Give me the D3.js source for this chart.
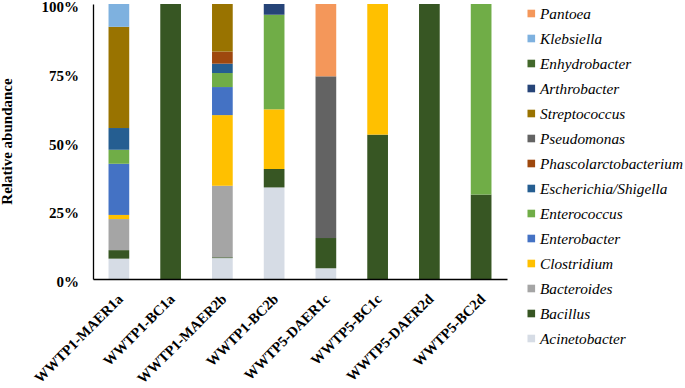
<!DOCTYPE html>
<html>
<head>
<meta charset="utf-8">
<title>Relative abundance</title>
<script src="https://d3js.org/d3.v7.min.js"></script>
<style>
	body { margin: 0; background: #fff; }
	svg text { font-family: "Liberation Serif", "Times New Roman", serif; }
	.tick-label { font-weight: bold; font-size: 15px; fill: #000; }
	.legend text { font-style: italic; font-size: 15.3px; fill: #000; }
</style>
</head>
<body>
<div id="chart"></div>
<script>
// samples (x axis)
var samples = ["WWTP1-MAER1a", "WWTP1-BC1a", "WWTP1-MAER2b", "WWTP1-BC2b",
	"WWTP5-DAER1c", "WWTP5-BC1c", "WWTP5-DAER2d", "WWTP5-BC2d"];

// genera, bottom of the stack first
var genera = ["Acinetobacter", "Bacillus", "Bacteroides", "Clostridium", "Enterobacter",
	"Enterococcus", "Escherichia/Shigella", "Phascolarctobacterium", "Pseudomonas",
	"Streptococcus", "Arthrobacter", "Enhydrobacter", "Klebsiella", "Pantoea"];

var colors = ["#d6dce5", "#375623", "#a5a5a5", "#ffc000", "#4472c4",
	"#70ad47", "#255e91", "#9e480e", "#636363",
	"#997300", "#264478", "#43682b", "#7eb1df", "#f4975a"];

// relative abundance (%) per genus, one value per sample
var Acinetobacter        = [7.4, 0, 7.6, 33.3, 3.9, 0, 0, 0];
var Bacillus             = [3.1, 100, 0.3, 6.7, 11.0, 52.5, 100, 30.7];
var Bacteroides          = [11.3, 0, 26.0, 0, 0, 0, 0, 0];
var Clostridium          = [1.5, 0, 25.7, 21.7, 0, 47.5, 0, 0];
var Enterobacter         = [18.6, 0, 10.2, 0, 0, 0, 0, 0];
var Enterococcus         = [5.1, 0, 5.1, 34.4, 0, 0, 0, 69.3];
var Escherichia          = [7.9, 0, 3.4, 0, 0, 0, 0, 0];
var Phascolarctobacterium = [0, 0, 4.4, 0, 0, 0, 0, 0];
var Pseudomonas          = [0, 0, 0, 0, 58.8, 0, 0, 0];
var Streptococcus        = [36.8, 0, 17.3, 0, 0, 0, 0, 0];
var Arthrobacter         = [0, 0, 0, 3.9, 0, 0, 0, 0];
var Enhydrobacter        = [0, 0, 0, 0, 0, 0, 0, 0];
var Klebsiella           = [8.3, 0, 0, 0, 0, 0, 0, 0];
var Pantoea              = [0, 0, 0, 0, 26.3, 0, 0, 0];

var series = [Acinetobacter, Bacillus, Bacteroides, Clostridium, Enterobacter,
	Enterococcus, Escherichia, Phascolarctobacterium, Pseudomonas,
	Streptococcus, Arthrobacter, Enhydrobacter, Klebsiella, Pantoea];

var yTicks = [0, 25, 50, 75, 100];

var width = 685, height = 388;
var margin = {left: 93, right: 178, top: 4, bottom: 109};

var svg = d3.select("#chart").append("svg")
	.attr("width", width)
	.attr("height", height);

var x = d3.scaleBand()
	.domain(samples)
	.range([margin.left, width - margin.right])
	.paddingInner(0.6)
	.paddingOuter(0.3);

var y = d3.scaleLinear()
	.domain([0, 100])
	.range([height - margin.bottom, margin.top]);

var color = d3.scaleOrdinal().domain(genera).range(colors);

// build table for the stack
var table = samples.map(function(s, i) {
	var row = {sample: s};
	genera.forEach(function(g, j) { row[g] = series[j][i]; });
	return row;
});

var stacked = d3.stack().keys(genera)(table);

svg.append("g")
	.selectAll("g")
	.data(stacked)
	.join("g")
		.attr("fill", function(d) { return color(d.key); })
	.selectAll("rect")
	.data(function(d) { return d; })
	.join("rect")
		.attr("x", function(d) { return x(d.data.sample); })
		.attr("y", function(d) { return y(d[1]); })
		.attr("width", x.bandwidth())
		.attr("height", function(d) { return Math.max(0, y(d[0]) - y(d[1])); });

// y axis
var yAxis = svg.append("g")
	.attr("transform", "translate(" + margin.left + ",0)")
	.call(d3.axisLeft(y).tickValues(yTicks).tickSize(0).tickPadding(14)
		.tickFormat(function(d) { return d + "%"; }));
yAxis.select(".domain").attr("stroke", "#000").attr("stroke-width", 1.3);
yAxis.selectAll("text").attr("class", "tick-label").attr("dy", "0.5em");

// x axis, labels slanted up to the right
var xAxis = svg.append("g")
	.attr("transform", "translate(0," + y(0) + ")")
	.call(d3.axisBottom(x).tickSize(0).tickSizeOuter(0).tickPadding(0));
xAxis.select(".domain").attr("stroke", "#000").attr("stroke-width", 1.3);
xAxis.selectAll("text")
	.attr("class", "tick-label")
	.style("font-size", "14.5px")
	.attr("text-anchor", "end")
	.attr("dy", null)
	.attr("y", null)
	.attr("transform", "translate(5,21) rotate(-45)");

// y axis title
svg.append("text")
	.attr("transform", "translate(12," + ((y(0) + y(100)) / 2) + ") rotate(-90)")
	.attr("text-anchor", "middle")
	.style("font-weight", "bold")
	.style("font-size", "15px")
	.text("Relative abundance");

// legend, top genus first
var legendItems = genera.slice().reverse();
var lg = svg.append("g").attr("class", "legend")
	.attr("transform", "translate(527.5,13.5)");
var item = lg.selectAll("g")
	.data(legendItems)
	.join("g")
		.attr("transform", function(d, i) { return "translate(0," + (i * 25) + ")"; });
item.append("rect")
	.attr("x", 0).attr("y", -3.8)
	.attr("width", 7.6).attr("height", 7.6)
	.attr("fill", function(d) { return color(d); });
item.append("text")
	.attr("x", 12.5)
	.attr("dy", "0.33em")
	.text(function(d) { return d; });
</script>
</body>
</html>
